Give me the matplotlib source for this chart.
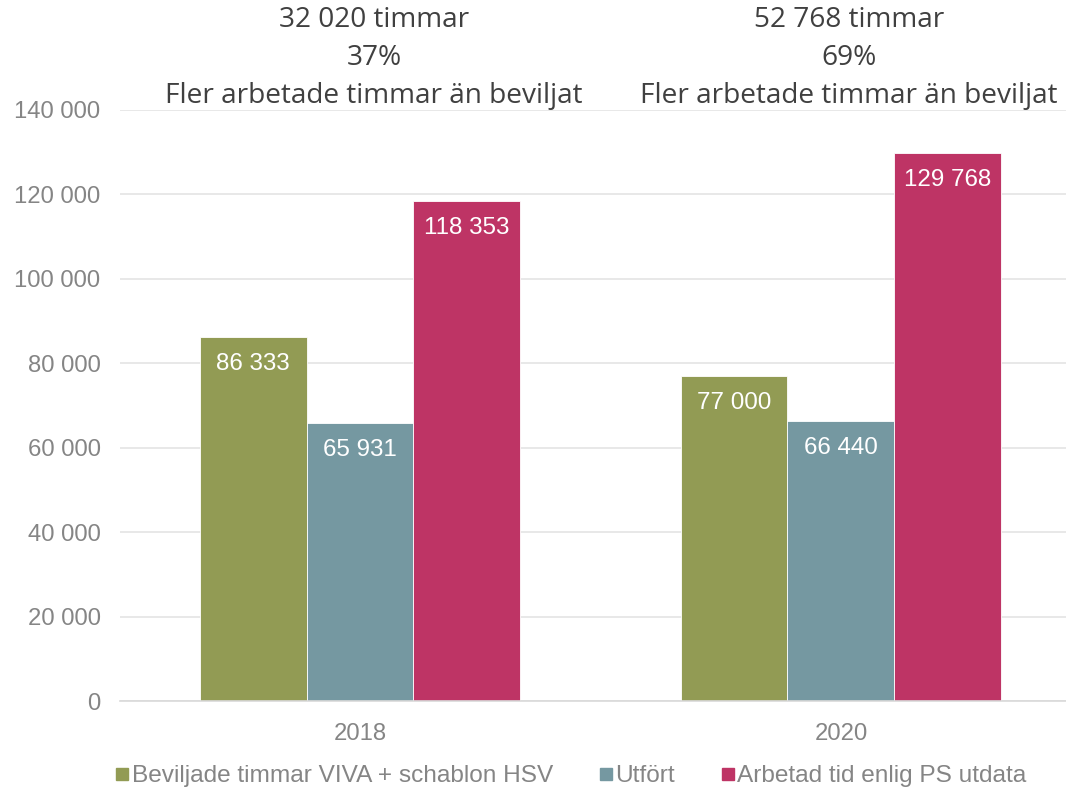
import matplotlib
matplotlib.use("Agg")
import matplotlib.pyplot as plt
from matplotlib.lines import Line2D
import numpy as np

categories = ["2018", "2020"]
series_names = ["Beviljade timmar VIVA + schablon HSV", "Utfört", "Arbetad tid enlig PS utdata"]
beviljade = [86333, 77000]
utfort = [65931, 66440]
arbetad = [118353, 129768]
top_hours = ["32 020 timmar", "52 768 timmar"]
top_pct = ["37%", "69%"]
top_note = "Fler arbetade timmar än beviljat"
yticks = [0, 20000, 40000, 60000, 80000, 100000, 120000, 140000]

colors = ["#929B54", "#7598A1", "#BE3465"]
W, H = 1066, 792
fig = plt.figure(figsize=(W / 100, H / 100), dpi=100)
ax = fig.add_axes([120 / W, 1 - 701 / H, 946 / W, (701 - 110) / H])

def fmt(v):
    return f"{v:,}".replace(",", " ")

x = np.arange(len(categories))
bw = 0.2222
series = [beviljade, utfort, arbetad]
for i, (vals, c) in enumerate(zip(series, colors)):
    xs = x + (i - 1) * bw
    ax.bar(xs, vals, width=bw, color=c, edgecolor="white", linewidth=0.6, zorder=3)
    for xi, v in zip(xs, vals):
        ax.annotate(fmt(v), (xi, v), xytext=(0, -19.5), textcoords="offset points",
                    ha="center", va="center", color="white", fontsize=17.4,
                    family="Liberation Sans", zorder=4)

ax.set_xlim(-0.499, 1.468)
ax.set_ylim(0, 140000)
ax.set_yticks(yticks)
ax.set_yticklabels([fmt(v) for v in yticks])
ax.set_xticks(x)
ax.set_xticklabels(categories)
ax.grid(axis="y", color="#E4E4E4", linewidth=1.2, zorder=0)
for s in ["top", "right", "left"]:
    ax.spines[s].set_visible(False)
ax.spines["bottom"].set_color("#D9D9D9")
ax.spines["bottom"].set_linewidth(1.2)
ax.spines["bottom"].set_zorder(5)
ax.tick_params(axis="both", length=0, labelcolor="#858585", labelsize=17.2)
ax.tick_params(axis="y", pad=14)
ax.tick_params(axis="x", pad=16)
for lab in ax.get_xticklabels() + ax.get_yticklabels():
    lab.set_family("Liberation Sans")

# Top annotations
centers = [374, 849]
for cx, hrs, pct in zip(centers, top_hours, top_pct):
    for j, t in enumerate([hrs, pct, top_note]):
        fig.text(cx / W, 1 - (20 + 38 * j) / H, t, ha="center", va="center",
                 fontsize=20.2, color="#404040", family="Open Sans")

handles = [Line2D([], [], marker="s", linestyle="none", markersize=9,
                  markerfacecolor=c, markeredgecolor=c) for c in colors]
fig.legend(handles, series_names, loc="center", bbox_to_anchor=(571 / W, 1 - 776 / H),
           ncol=3, frameon=False, handlelength=0.55, handletextpad=0.1,
           columnspacing=1.9, prop={"family": "Liberation Sans", "size": 17.6},
           labelcolor="#858585", borderpad=0, borderaxespad=0)

fig.savefig("out.png", dpi=100)
